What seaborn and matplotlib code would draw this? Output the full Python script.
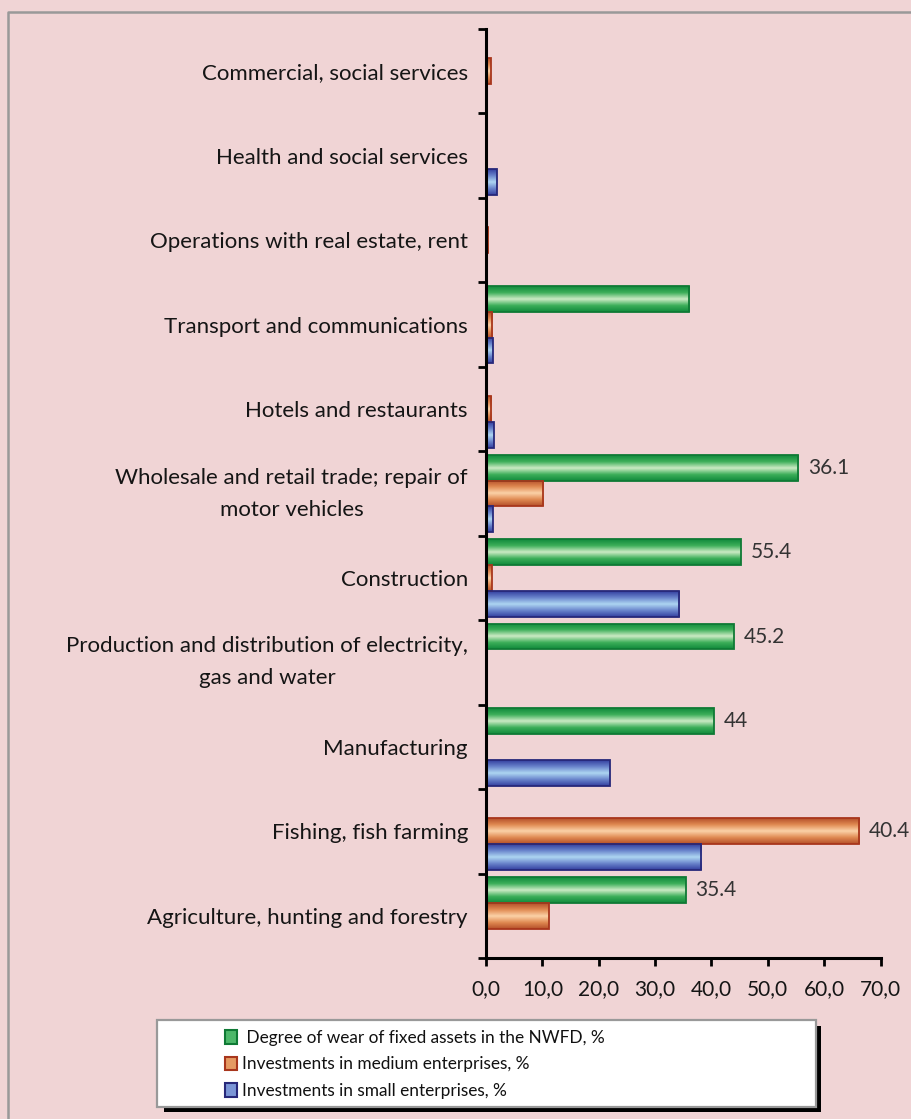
import numpy as np
import pandas as pd
import seaborn as sns
import matplotlib.pyplot as plt
from matplotlib.colors import LinearSegmentedColormap
from matplotlib.patches import Rectangle, Patch
from matplotlib.lines import Line2D

categories = [
    "Commercial, social services",
    "Health and social services",
    "Operations with real estate, rent",
    "Transport and communications",
    "Hotels and restaurants",
    "Wholesale and retail trade; repair of\nmotor vehicles",
    "Construction",
    "Production and distribution of electricity,\ngas and water",
    "Manufacturing",
    "Fishing, fish farming",
    "Agriculture, hunting and forestry",
]
series = [
    "Degree of wear of fixed assets in the NWFD, %",
    "Investments in medium enterprises, %",
    "Investments in small enterprises, %",
]
wear = [0, 0, 0, 36.1, 0, 55.4, 45.2, 44.0, 40.4, 0, 35.4]
medium = [0.8, 0, 0.4, 1.15, 0.9, 10.2, 1.05, 0.2, 0, 66.2, 11.1]
small = [0, 1.9, 0, 1.2, 1.4, 1.2, 34.3, 0, 22.0, 38.2, 0]
# labels as printed on the original chart
wear_labels = ["", "", "", "", "", "36.1", "55.4", "45.2", "44", "", "35.4"]
medium_labels = ["", "", "", "", "", "", "", "", "", "40.4", ""]
small_labels = [""] * 11
x_ticks = [0, 10, 20, 30, 40, 50, 60, 70]

edges = ["#0F7A35", "#A8361C", "#27287A"]
ramps = [
    ["#118A3C", "#3DAF5A", "#CDEBC5", "#3DAF5A", "#118A3C"],
    ["#B5502A", "#E08A52", "#FBD2A8", "#E08A52", "#B5502A"],
    ["#3440A0", "#6A85CC", "#AED6F2", "#6A85CC", "#3440A0"],
]
mids = ["#4DB86A", "#E59A62", "#7A95D6"]

df = pd.DataFrame({
    "category": categories * 3,
    "series": [series[0]] * 11 + [series[1]] * 11 + [series[2]] * 11,
    "value": wear + medium + small,
})

sns.set_theme(style="white")
plt.rcParams["font.family"] = ["Lato", "DejaVu Sans"]
bg = "#F0D4D5"

W, H = 912, 1119
fig = plt.figure(figsize=(W / 100, H / 100), dpi=100, facecolor=bg)
ax = fig.add_axes([486 / W, 1 - 958 / H, (880.5 - 486) / W, (958 - 29) / H])
ax.set_facecolor("none")

sns.barplot(data=df, y="category", x="value", hue="series", order=categories,
            hue_order=series, palette=mids, width=0.92, orient="h",
            legend=False, ax=ax)

grad = np.linspace(0, 1, 64).reshape(-1, 1)
for cont, edge, ramp in zip(ax.containers, edges, ramps):
    cmap = LinearSegmentedColormap.from_list("pipe", ramp)
    for p in cont.patches:
        x0, y0, w, h = p.get_x(), p.get_y(), p.get_width(), p.get_height()
        if not w or np.isnan(w):
            p.set_visible(False)
            continue
        p.set_facecolor("none")
        p.set_edgecolor(edge)
        p.set_linewidth(1.3)
        p.set_zorder(3)
        im = ax.imshow(grad, cmap=cmap, extent=[x0, x0 + w, y0 + h, y0],
                       aspect="auto", zorder=2, interpolation="bilinear")
        im.set_clip_path(p)

for cont, labs in zip(ax.containers, [wear_labels, medium_labels, small_labels]):
    ax.bar_label(cont, labels=labs, padding=7, fontsize=15, color="#333333")

ax.set_xlim(0, 70)
ax.set_ylim(10.5, -0.5)
ax.set_xlabel("")
ax.set_ylabel("")

ax.set_yticks(np.arange(-0.5, 11, 1))
ax.set_yticklabels([])
ax.set_yticks(range(len(categories)), minor=True)
ticklabs = ax.set_yticklabels(categories, minor=True, fontsize=16, color="#151515",
                              multialignment="center", linespacing=1.75)
for t in ticklabs:
    if "\n" in t.get_text():
        t.set_verticalalignment("center")
ax.tick_params(axis="y", which="major", length=6, width=2, direction="out",
               left=True, color="black")
ax.tick_params(axis="y", which="minor", length=0, pad=13)

ax.set_xticks(x_ticks)
ax.set_xticklabels([f"{v:.1f}".replace(".", ",") for v in x_ticks],
                   fontsize=15, color="#151515")
ax.tick_params(axis="x", length=6, width=2, direction="out", bottom=True,
               color="black", pad=9)

for s in ["top", "right"]:
    ax.spines[s].set_visible(False)
for s in ["left", "bottom"]:
    ax.spines[s].set_color("black")
    ax.spines[s].set_linewidth(2.2)
    ax.spines[s].set_zorder(4)

# outer border (left and top only, as in the source)
fig.add_artist(Line2D([8.5 / W, 8.5 / W, 1], [0, 1 - 11.5 / H, 1 - 11.5 / H],
                      transform=fig.transFigure, color="#999999", lw=1.8))

# legend box with shadow
fig.add_artist(Rectangle((164 / W, 1 - 1112 / H), (821 - 164) / W, (1112 - 1026) / H,
                         transform=fig.transFigure, facecolor="black",
                         edgecolor="none", zorder=1))
fig.add_artist(Rectangle((157 / W, 1 - 1107 / H), (816 - 157) / W, (1107 - 1020) / H,
                         transform=fig.transFigure, facecolor="white",
                         edgecolor="#999999", lw=1.6, zorder=2))
handles = [Patch(facecolor=m, edgecolor=e, linewidth=1.5) for m, e in zip(mids, edges)]
leg_labels = [" " + series[0], series[1], series[2]]
fig.legend(handles, leg_labels, loc="upper left",
           bbox_to_anchor=(225 / W, 1 - 1030 / H), frameon=False,
           fontsize=12.4, handlelength=0.7, handleheight=0.85,
           handletextpad=0.3, labelspacing=0.6, borderpad=0, borderaxespad=0,
           labelcolor="#111111")

fig.savefig("out.png", dpi=100, facecolor=bg)
